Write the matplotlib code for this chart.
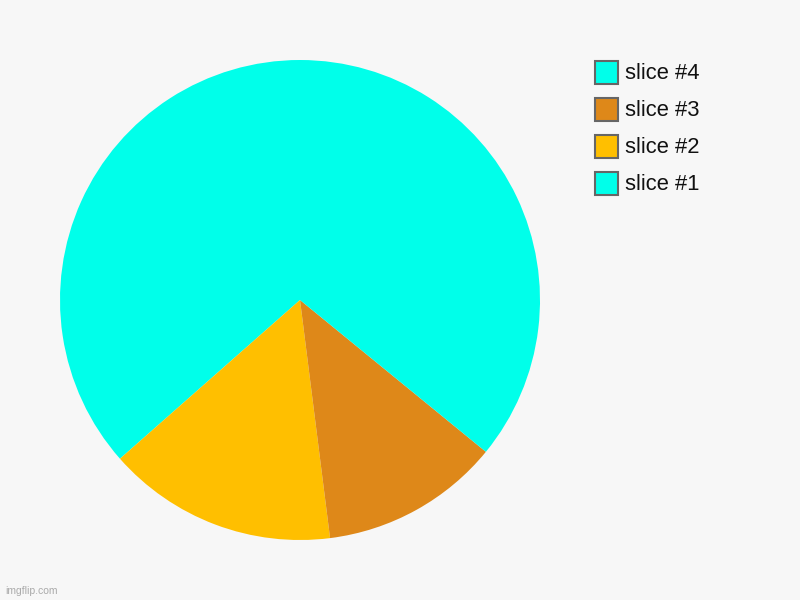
import matplotlib.pyplot as plt
from matplotlib.patches import Rectangle

labels = ['slice #1', 'slice #2', 'slice #3', 'slice #4']
values = [36.5, 15.5, 12.1, 35.9]
colors = ['#00ffea', '#ffbf00', '#de8819', '#00ffea']

fig = plt.figure(figsize=(8, 6), dpi=100, facecolor='#f7f7f7')
ax = fig.add_axes([0.075, 0.1, 0.6, 0.8])
ax.pie(values, colors=colors, startangle=90, counterclock=True,
       wedgeprops={'linewidth': 0})
ax.set_aspect('equal')
ax.set_xlim(-1, 1)
ax.set_ylim(-1, 1)
ax.axis('off')

# legend, drawn by hand, last slice on top
for i, lab in enumerate(reversed(labels)):
    col = list(reversed(colors))[i]
    yc = 72 + i * 37
    fig.add_artist(Rectangle((595 / 800, 1 - (yc + 11.5) / 600), 23 / 800, 23 / 600,
                             transform=fig.transFigure, facecolor=col,
                             edgecolor='#666666', linewidth=1.5))
    fig.text(625 / 800, 1 - (yc + 1.5) / 600, lab, fontsize=15.8, family='Liberation Sans',
             va='center', ha='left', color='#111111')

fig.text(5 / 800, 1 - 591 / 600, 'imgflip.com', fontsize=7.5, family='Liberation Sans',
         color='#aaaaaa', va='center', ha='left')

plt.savefig('out.png', facecolor=fig.get_facecolor())
